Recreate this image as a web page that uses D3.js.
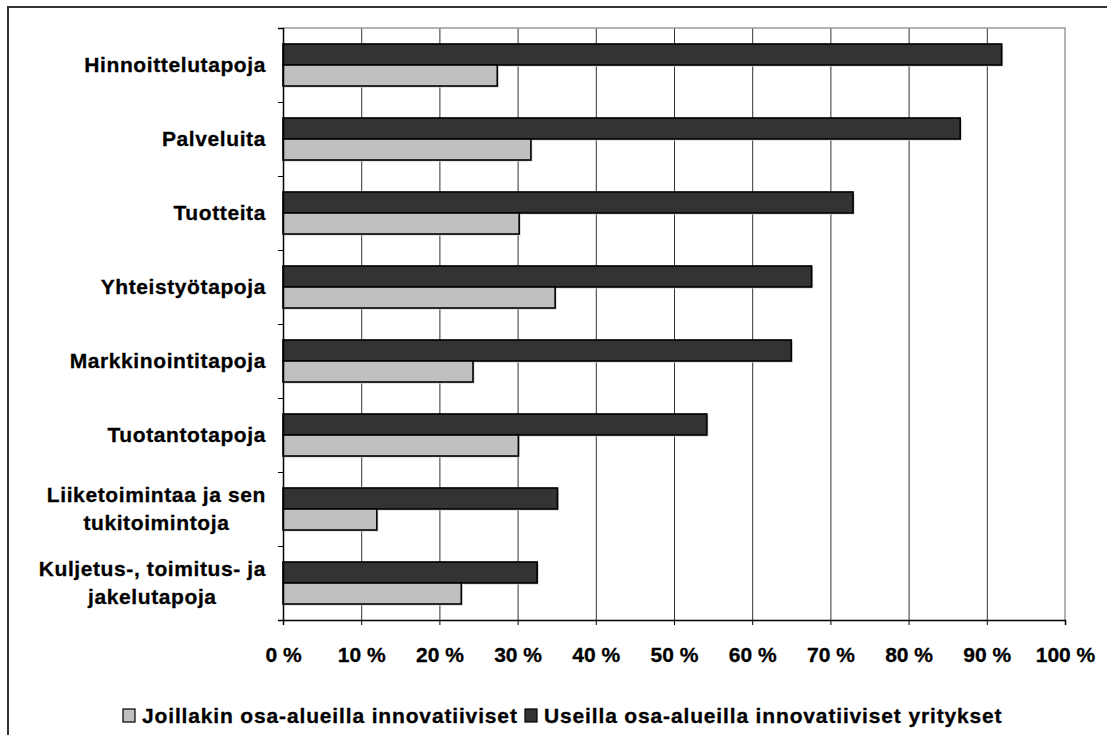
<!DOCTYPE html>
<html>
<head>
<meta charset="utf-8">
<script src="https://cdn.jsdelivr.net/npm/d3@7"></script>
<style>
  body { margin: 0; background: #fff; }
  svg { display: block; font-family: "Liberation Sans", Arial, sans-serif; font-weight: bold; }
</style>
</head>
<body>
<div class="display"></div>
<script>
// values (percent)
const categories = [
  "Hinnoittelutapoja",
  "Palveluita",
  "Tuotteita",
  "Yhteistyötapoja",
  "Markkinointitapoja",
  "Tuotantotapoja",
  "Liiketoimintaa ja sen\ntukitoimintoja",
  "Kuljetus-, toimitus- ja\njakelutapoja"
];
const joillakin = [27.4, 31.7, 30.2, 34.8, 24.3, 30.1, 12.0, 22.8];
const useilla = [91.9, 86.6, 72.9, 67.6, 65.0, 54.2, 35.1, 32.5];
const seriesNames = [
  "Joillakin osa-alueilla innovatiiviset",
  "Useilla osa-alueilla innovatiiviset yritykset"
];
const xTicks = [0, 10, 20, 30, 40, 50, 60, 70, 80, 90, 100];

class BarChart {
  constructor() {
    this.sizes = {
      width: 1107,
      height: 735,
      margin: { top: 28, right: 42, bottom: 115, left: 283 }
    };
    this.colors = { useilla: "#333333", joillakin: "#c0c0c0" };
    this.drawCanvas().createScale().addGrid().addBars().addAxis().addLegend();
  }

  drawCanvas() {
    const { width, height } = this.sizes;
    this.svg = d3.select(".display")
      .append("svg")
      .attr("width", width)
      .attr("height", height);

    // outer chart frame, runs off the right and bottom edge
    this.svg.append("rect")
      .attr("x", 8).attr("y", 7)
      .attr("width", width + 20).attr("height", height + 20)
      .attr("fill", "none")
      .attr("stroke", "#333")
      .attr("stroke-width", 2);
    return this;
  }

  createScale() {
    const { width, height, margin } = this.sizes;
    this.xScale = d3.scaleLinear()
      .domain([0, 100])
      .range([margin.left, width - margin.right]);

    this.yScale = d3.scaleBand()
      .domain(categories)
      .range([margin.top, height - margin.bottom]);

    // dark bar on top, light bar under it
    this.subScale = d3.scaleBand()
      .domain(["useilla", "joillakin"])
      .range([0, this.yScale.bandwidth()])
      .paddingInner(0)
      .paddingOuter(0.76);
    return this;
  }

  addGrid() {
    const [y0, y1] = this.yScale.range();
    const [x0, x1] = this.xScale.range();

    this.svg.append("g")
      .attr("class", "grid")
      .attr("transform", `translate(0, ${y1})`)
      .call(d3.axisBottom(this.xScale).tickValues(xTicks.slice(1, -1)).tickSize(-(y1 - y0)).tickFormat(""))
      .call(g => g.select(".domain").remove())
      .selectAll("line")
      .attr("stroke", "#333")
      .attr("stroke-width", 1);

    // top and right edge of plot area
    this.svg.append("path")
      .attr("d", `M${x0},${y0}H${x1}V${y1}`)
      .attr("fill", "none")
      .attr("stroke", "#999")
      .attr("stroke-width", 1.5);
    return this;
  }

  addBars() {
    const rows = categories.map((c, i) => ({ category: c, useilla: useilla[i], joillakin: joillakin[i] }));
    const bars = rows.flatMap(d => ["useilla", "joillakin"].map(key => ({ category: d.category, key, value: d[key] })));
    const x0 = this.xScale(0);

    // soft drop shadow like the original
    this.svg.append("g")
      .selectAll("rect")
      .data(bars)
      .join("rect")
      .attr("x", x0 + 1.5)
      .attr("y", d => this.yScale(d.category) + this.subScale(d.key) + 1.5)
      .attr("width", d => this.xScale(d.value) - x0)
      .attr("height", this.subScale.bandwidth())
      .attr("fill", "#d0d0d0");

    this.svg.append("g")
      .selectAll("rect")
      .data(bars)
      .join("rect")
      .attr("x", x0)
      .attr("y", d => this.yScale(d.category) + this.subScale(d.key))
      .attr("width", d => this.xScale(d.value) - x0)
      .attr("height", this.subScale.bandwidth())
      .attr("fill", d => this.colors[d.key])
      .attr("stroke", "#000")
      .attr("stroke-width", 1.6);
    return this;
  }

  addAxis() {
    const [y0, y1] = this.yScale.range();
    const x0 = this.xScale(0);

    const xAxis = this.svg.append("g")
      .attr("transform", `translate(0, ${y1})`)
      .call(d3.axisBottom(this.xScale).tickValues(xTicks).tickSize(5).tickPadding(22).tickFormat(d => d + " %"));
    xAxis.select(".domain").attr("stroke", "#000").attr("stroke-width", 1.5);
    xAxis.selectAll(".tick line").attr("stroke", "#000");
    xAxis.selectAll("text")
      .attr("fill", "#000")
      .attr("stroke", "#000")
      .attr("stroke-width", 0.3)
      .style("font-size", "21px")
      .style("font-weight", "bold")
      .style("font-family", "'Liberation Sans', Arial, sans-serif");

    // left axis with ticks on category boundaries
    const boundary = d3.scaleLinear().domain([0, categories.length]).range([y0, y1]);
    const yAxis = this.svg.append("g")
      .attr("transform", `translate(${x0}, 0)`)
      .call(d3.axisLeft(boundary).ticks(categories.length).tickSize(5).tickFormat(""));
    yAxis.select(".domain").attr("stroke", "#000").attr("stroke-width", 1.5);
    yAxis.selectAll(".tick line").attr("stroke", "#000");

    // category labels, lines centred on each other, block right aligned
    const rightEdge = 266;
    const lineHeight = 28;
    const labels = this.svg.append("g")
      .selectAll("text")
      .data(categories)
      .join("text")
      .attr("fill", "#000")
      .attr("stroke", "#000")
      .attr("stroke-width", 0.3)
      .style("font-size", "21px")
      .style("letter-spacing", "0.6px")
      .attr("text-anchor", "middle");

    labels.each(function(d) {
      const lines = d.split("\n");
      d3.select(this)
        .selectAll("tspan")
        .data(lines)
        .join("tspan")
        .text(l => l);
    });

    labels.each((d, i, nodes) => {
      const node = d3.select(nodes[i]);
      const tspans = node.selectAll("tspan");
      let maxW = 0;
      tspans.each(function() { maxW = Math.max(maxW, this.getComputedTextLength()); });
      const cx = rightEdge - maxW / 2;
      const n = tspans.size();
      const mid = this.yScale(d) + this.yScale.bandwidth() / 2;
      tspans
        .attr("x", cx)
        .attr("y", (t, j) => mid + 7 + (j - (n - 1) / 2) * lineHeight);
    });
    return this;
  }

  addLegend() {
    const items = [
      { name: seriesNames[0], color: this.colors.joillakin, x: 123 },
      { name: seriesNames[1], color: this.colors.useilla, x: 525 }
    ];
    const legend = this.svg.append("g").attr("id", "legend");
    const g = legend.selectAll("g")
      .data(items)
      .join("g")
      .attr("transform", d => `translate(${d.x}, 709)`);

    g.append("rect")
      .attr("width", 12)
      .attr("height", 13)
      .attr("fill", d => d.color)
      .attr("stroke", "#000")
      .attr("stroke-width", 1.2);

    g.append("text")
      .attr("x", 19)
      .attr("y", 14)
      .attr("fill", "#000")
      .attr("stroke", "#000")
      .attr("stroke-width", 0.3)
      .style("font-size", "21px")
      .style("letter-spacing", "0.85px")
      .text(d => d.name);
    return this;
  }
}

new BarChart();
</script>
</body>
</html>
